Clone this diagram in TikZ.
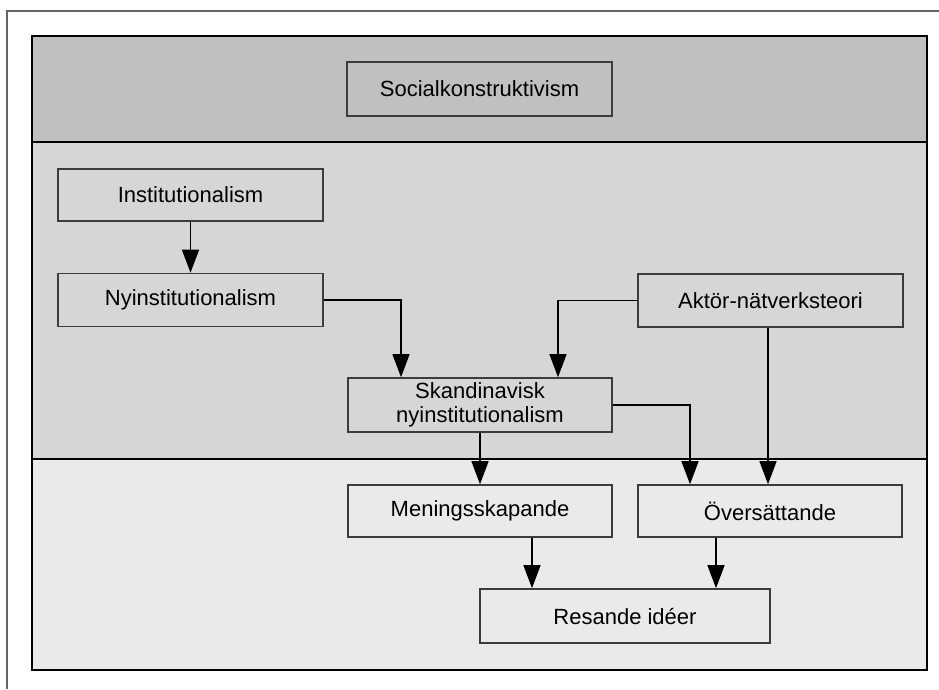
\documentclass[tikz,border=0pt]{standalone}
\usepackage{fontspec}
\setmainfont{Liberation Sans}
\usetikzlibrary{arrows.meta}
\definecolor{bandtop}{HTML}{C0C0C0}
\definecolor{bandmid}{HTML}{D6D6D6}
\definecolor{bandlow}{HTML}{EAEAEA}
\definecolor{boxline}{HTML}{3C3C3C}
\definecolor{frameline}{HTML}{666666}
\tikzset{
  concept/.style={draw=boxline, line width=1.6pt, rectangle, inner sep=0pt,
    align=center, font=\fontsize{22}{24}\selectfont, text=black},
  band/.style={draw=black, line width=1.4pt},
  arr/.style={draw=black, line width=1.4pt, -{Triangle[length=23pt,width=17pt]}}
}
\begin{document}
\begin{tikzpicture}[x=1pt, y=-1pt]
  \useasboundingbox (0,0) rectangle (939,689);
  % outer frame (only top and left edges visible)
  \draw[frameline, line width=2.4pt] (7,689) -- (7,11) -- (939,11);
  % horizontal bands
  \filldraw[band, fill=bandtop] (32,36) rectangle (927,142);
  \filldraw[band, fill=bandmid] (32,142) rectangle (927,459);
  \filldraw[band, fill=bandlow] (32,459) rectangle (927,670);

  % concepts
  \node[concept, minimum width=265pt, minimum height=54pt] (soc) at (479.5,89) {Socialkonstruktivism};
  \node[concept, minimum width=265pt, minimum height=52pt] (inst) at (190.5,195) {Institutionalism};
  \node[concept, minimum width=265pt, minimum height=53pt] (nyi) at (190.5,300) {Nyinstitutionalism};
  \node[concept, minimum width=265pt, minimum height=53pt] (akt) at (770.5,300.5) {Aktör-nätverksteori};
  \node[concept, minimum width=264pt, minimum height=54pt] (skand) at (480,405) {Skandinavisk\\nyinstitutionalism};
  \node[concept, minimum width=264pt, minimum height=52pt] (men) at (480,511) {Meningsskapande};
  \node[concept, minimum width=264pt, minimum height=52pt] (over) at (770,511) {Översättande};
  \node[concept, minimum width=290pt, minimum height=54pt] (res) at (625,616) {Resande idéer};

  % connectors
  \draw[arr] (inst.south) -- (nyi.north);
  \draw[arr] (nyi.east) -| ([xshift=-79pt]skand.north);
  \draw[arr] (akt.west) -| ([xshift=78pt]skand.north);
  \draw[arr] (skand.south) -- (men.north);
  \draw[arr] (skand.east) -| ([xshift=-80pt]over.north);
  \draw[arr] ([xshift=-2.5pt]akt.south) -- ([xshift=-2pt]over.north);
  \coordinate (m1) at ([xshift=52pt]men.south);
  \coordinate (o1) at ([xshift=-54pt]over.south);
  \draw[arr] (m1) -- (m1 |- res.north);
  \draw[arr] (o1) -- (o1 |- res.north);
\end{tikzpicture}
\end{document}
